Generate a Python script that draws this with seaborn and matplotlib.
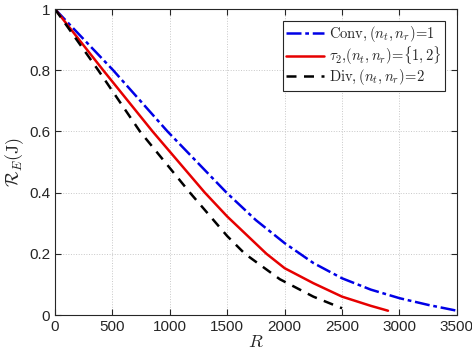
import numpy as np
import pandas as pd
import matplotlib
matplotlib.use("Agg")
import matplotlib.pyplot as plt
import seaborn as sns

# values
r_conv = [0, 507, 980, 1494, 1750, 2000, 2250, 2500, 2750, 3000, 3250, 3500]
y_conv = [1.0, 0.8, 0.6, 0.4, 0.31, 0.235, 0.17, 0.12, 0.083, 0.055, 0.033, 0.014]

r_tau = [0, 420, 850, 1305, 1500, 1842, 2000, 2250, 2500, 2750, 2900]
y_tau = [1.0, 0.8, 0.6, 0.4, 0.322, 0.2, 0.153, 0.104, 0.06, 0.03, 0.014]

r_div = [0, 377, 740, 1175, 1500, 1654, 1958, 2250, 2500]
y_div = [1.0, 0.8, 0.6, 0.4, 0.258, 0.2, 0.117, 0.06, 0.022]

labels = [r"$\mathrm{Conv,}(n_t,n_r)\!=\!\mathrm{1}$",
          r"$\tau_2\mathrm{,}(n_t,n_r)\!=\!\mathrm{\{1,2\}}$",
          r"$\mathrm{Div,}(n_t,n_r)\!=\!\mathrm{2}$"]

df = pd.concat([
    pd.DataFrame({"R": r_conv, "RE": y_conv, "scheme": labels[0]}),
    pd.DataFrame({"R": r_tau, "RE": y_tau, "scheme": labels[1]}),
    pd.DataFrame({"R": r_div, "RE": y_div, "scheme": labels[2]}),
])

sns.set_style("ticks")
plt.rcParams["font.family"] = ["Liberation Sans", "DejaVu Sans"]
plt.rcParams["mathtext.fontset"] = "cm"

fig = plt.figure(figsize=(4.72, 3.64), dpi=100)
ax = fig.add_axes([0.1165, 0.1346, 0.8515, 0.8404])

styles = {labels[0]: (0, (6, 1.5, 1.5, 1.5)), labels[1]: "-", labels[2]: (0, (4, 3))}
colors = {labels[0]: "#0000e6", labels[1]: "#e60000", labels[2]: "black"}
for lab in labels:
    sub = df[df.scheme == lab]
    sns.lineplot(data=sub, x="R", y="RE", ax=ax, color=colors[lab],
                 linestyle=styles[lab], linewidth=1.8, label=lab)

ax.set_xlim(0, 3500)
ax.set_ylim(0, 1)
ax.set_xticks(np.arange(0, 3501, 500))
ax.set_yticks([0, 0.2, 0.4, 0.6, 0.8, 1])
ax.set_yticklabels(["0", "0.2", "0.4", "0.6", "0.8", "1"])
ax.grid(True, linestyle=":", linewidth=0.7, color="#c8c8c8")
ax.tick_params(direction="in", top=True, right=True, labelsize=11, length=4,
               colors="#262626")
for s in ax.spines.values():
    s.set_color("#262626")
    s.set_linewidth(0.8)
ax.set_xlabel(r"$R$", fontsize=13, labelpad=0)
ax.set_ylabel(r"$\mathcal{R}_E(\mathrm{J})$", fontsize=13, labelpad=2)

leg = ax.legend(loc="upper right", fontsize=10.5, fancybox=False, framealpha=1,
                edgecolor="#262626", handlelength=2.6, borderpad=0.25,
                labelspacing=0.0, handletextpad=0.3, borderaxespad=0.8)
leg.get_frame().set_linewidth(0.8)

fig.savefig("out.png", dpi=100)
